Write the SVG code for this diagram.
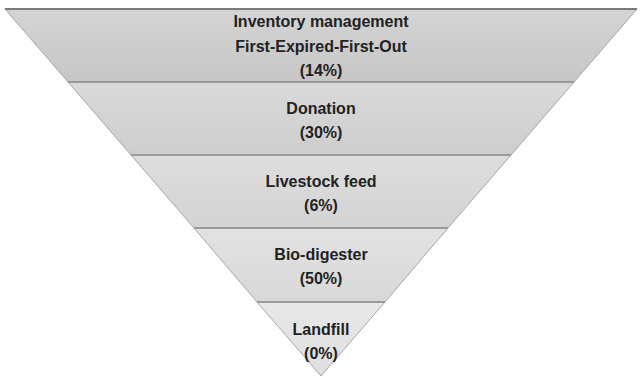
<svg xmlns="http://www.w3.org/2000/svg" width="640" height="377" viewBox="0 0 640 377">
  <defs>
    <linearGradient id="g1" x1="0" y1="0" x2="0" y2="1">
      <stop offset="0" stop-color="#d4d4d4"/>
      <stop offset="1" stop-color="#c6c6c6"/>
    </linearGradient>
    <linearGradient id="g2" x1="0" y1="0" x2="0" y2="1">
      <stop offset="0" stop-color="#dadada"/>
      <stop offset="1" stop-color="#cdcdcd"/>
    </linearGradient>
    <linearGradient id="g3" x1="0" y1="0" x2="0" y2="1">
      <stop offset="0" stop-color="#dedede"/>
      <stop offset="1" stop-color="#d3d3d3"/>
    </linearGradient>
    <linearGradient id="g4" x1="0" y1="0" x2="0" y2="1">
      <stop offset="0" stop-color="#e2e2e2"/>
      <stop offset="1" stop-color="#d8d8d8"/>
    </linearGradient>
    <linearGradient id="g5" x1="0" y1="0" x2="0" y2="1">
      <stop offset="0" stop-color="#e8e8e8"/>
      <stop offset="1" stop-color="#dfdfdf"/>
    </linearGradient>
  </defs>
  <style>
    .band { stroke: #a6a6a6; stroke-width: 1; }
    .sep { stroke: #9a9a9a; stroke-width: 2; }
    .lbl { font-family: "Liberation Sans", Arial, sans-serif; font-weight: bold; font-size: 16px; fill: #222; text-anchor: middle; }
  </style>
  <rect width="640" height="377" fill="#fff"/>

  <g id="inventory">
    <polygon class="band" fill="url(#g1)" points="5,9 637,9 574,82 68,82"/>
    <line x1="5" y1="9" x2="637" y2="9" stroke="#7a7a7a" stroke-width="2"/>
    <text class="lbl" x="321" y="27">Inventory management</text>
    <text class="lbl" x="321" y="52">First-Expired-First-Out</text>
    <text class="lbl" x="321" y="76">(14%)</text>
  </g>

  <g id="donation">
    <polygon class="band" fill="url(#g2)" points="68,82 574,82 511,155 131,155"/>
    <line class="sep" x1="68" y1="82" x2="574" y2="82"/>
    <text class="lbl" x="321" y="114">Donation</text>
    <text class="lbl" x="321" y="138">(30%)</text>
  </g>

  <g id="livestock">
    <polygon class="band" fill="url(#g3)" points="131,155 511,155 448,228 194,228"/>
    <line class="sep" x1="131" y1="155" x2="511" y2="155"/>
    <text class="lbl" x="321" y="187">Livestock feed</text>
    <text class="lbl" x="321" y="211">(6%)</text>
  </g>

  <g id="biodigester">
    <polygon class="band" fill="url(#g4)" points="194,228 448,228 385,302 257,302"/>
    <line class="sep" x1="194" y1="228" x2="448" y2="228"/>
    <text class="lbl" x="321" y="260">Bio-digester</text>
    <text class="lbl" x="321" y="284">(50%)</text>
  </g>

  <g id="landfill">
    <polygon class="band" fill="url(#g5)" points="257,302 385,302 321,376"/>
    <line class="sep" x1="257" y1="302" x2="385" y2="302"/>
    <text class="lbl" x="321" y="335">Landfill</text>
    <text class="lbl" x="321" y="359">(0%)</text>
  </g>

  <g id="connectors"/>
</svg>
